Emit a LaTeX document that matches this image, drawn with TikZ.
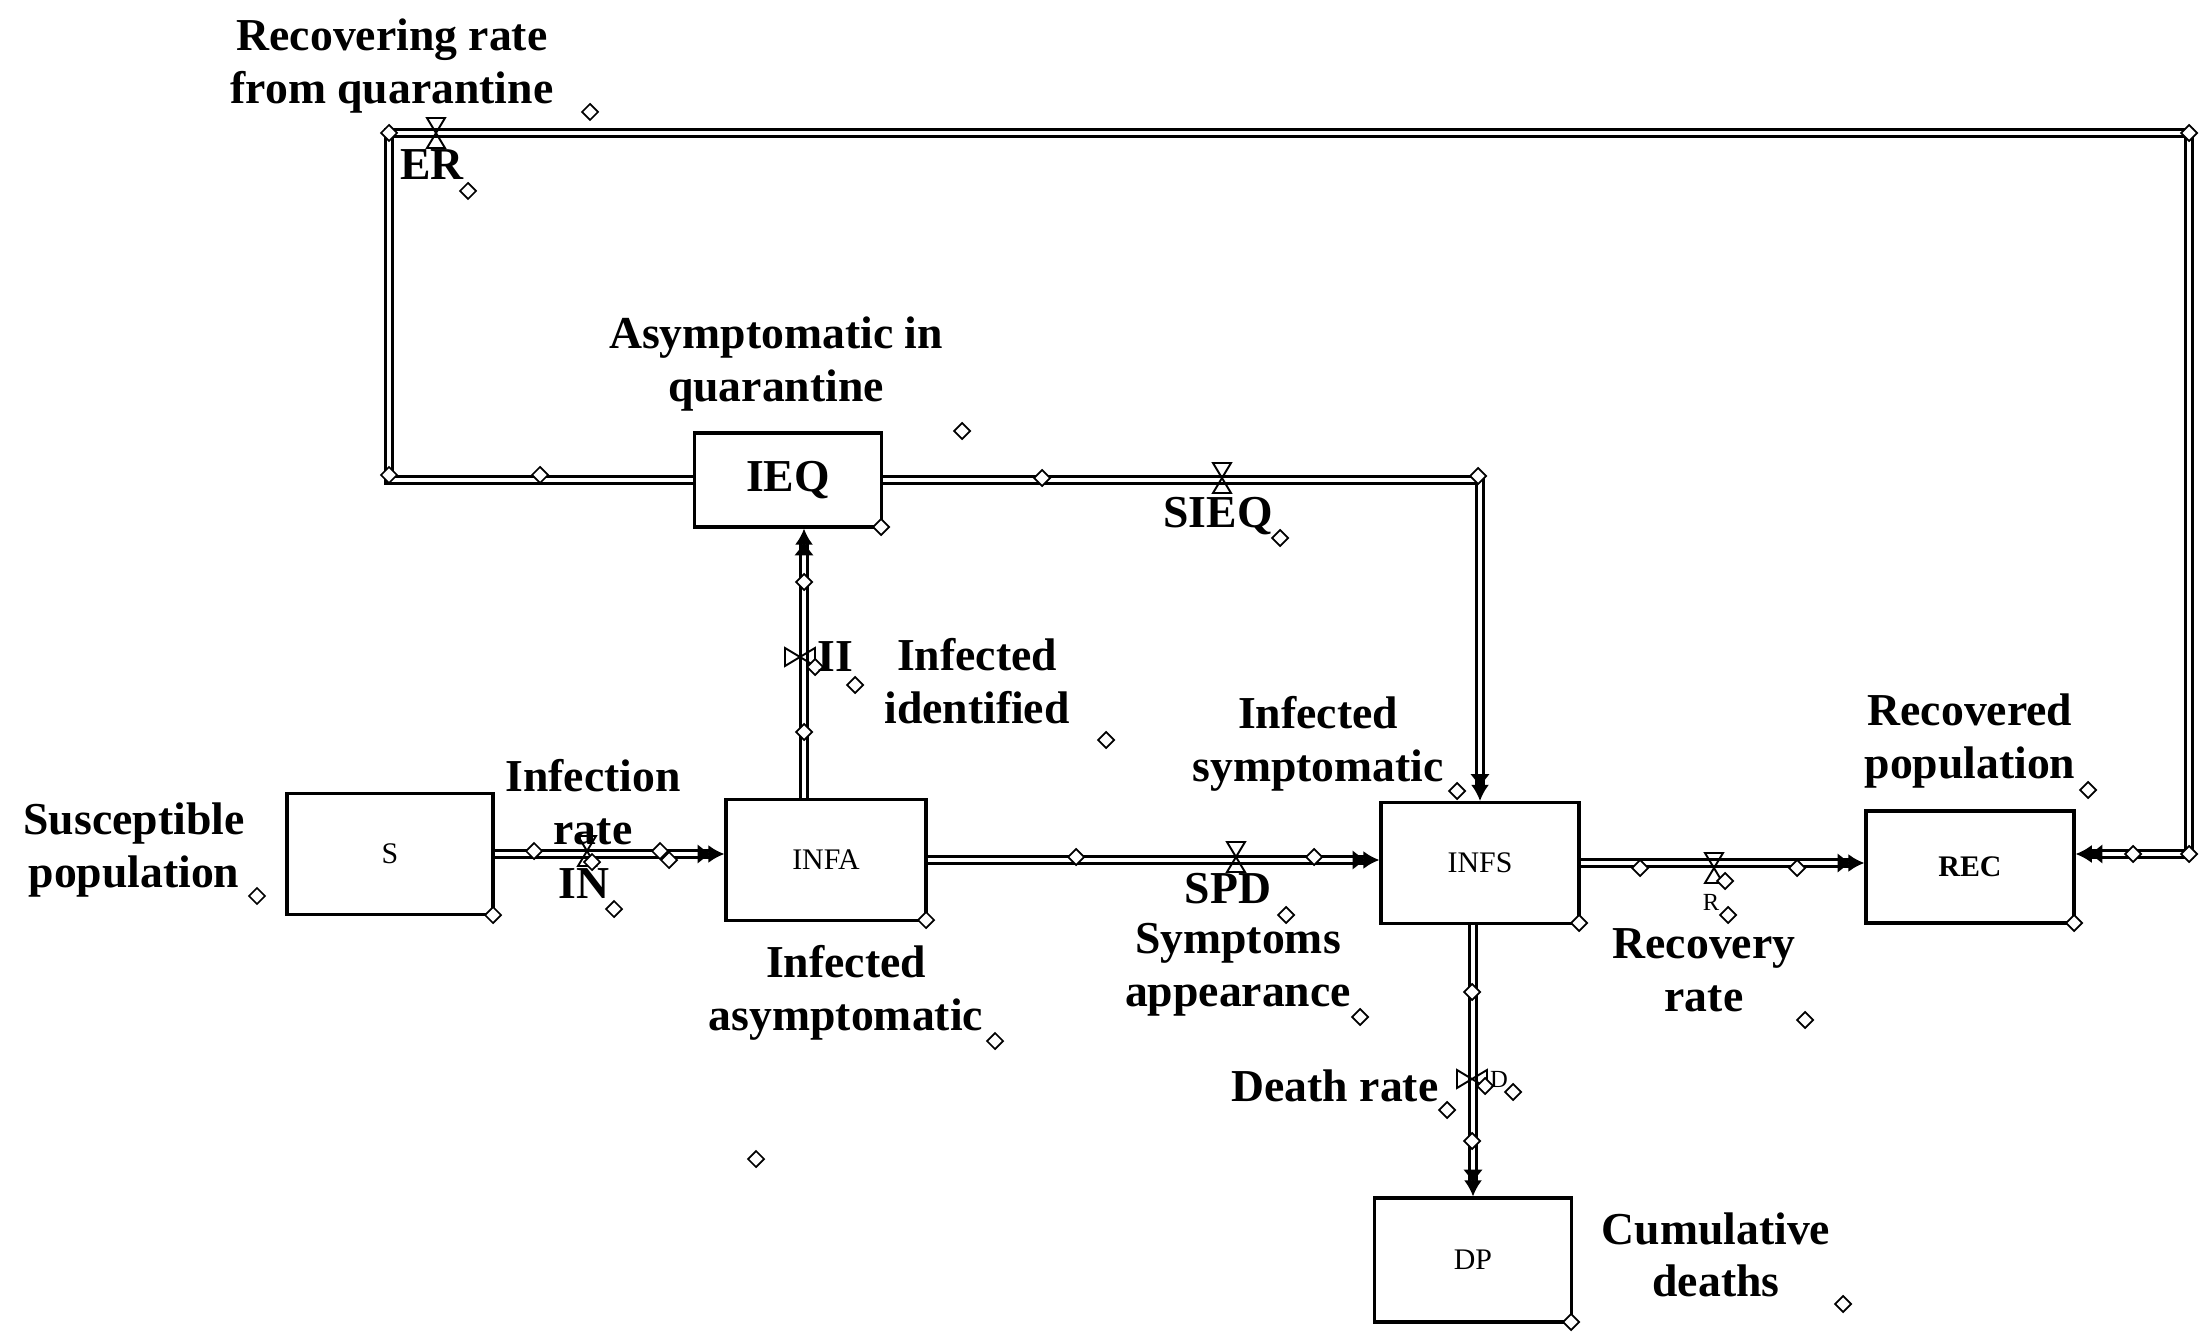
\documentclass[tikz,border=0pt]{standalone}
\usepackage{fontspec}
\setmainfont{Liberation Serif}
\usetikzlibrary{arrows.meta}

\newcommand\lblfont{\fontsize{13}{15}\selectfont\bfseries}
\newcommand\stockfont{\fontsize{8.5}{10}\selectfont}
\newcommand\smallfont{\fontsize{7}{8}\selectfont}

\tikzset{
  handle/.pic={\draw[line width=0.5pt, fill=white] (-8,0) -- (0,-8) -- (8,0) -- (0,8) -- cycle;},
  valveh/.pic={\draw[line width=0.55pt] (-9,-15) -- (9,-15) -- (-9,15) -- (9,15) -- cycle;},
  valvev/.pic={\draw[line width=0.55pt] (-15,-9) -- (-15,9) -- (15,-9) -- (15,9) -- cycle;},
}

\begin{document}
\begin{tikzpicture}[x=0.1mm,y=-0.1mm,
  stock/.style={draw, line width=0.9pt, fill=white, inner sep=0pt, font=\stockfont},
  pipe/.style={draw, line width=0.75pt, double=white, double distance=1.1pt},
  tip/.style={-{Latex[length=4.2pt,width=5.6pt,sep=-1.2pt]Latex[length=4.6pt,width=5.2pt]}},
  lab/.style={font=\lblfont, align=center, inner sep=0pt},
  tag/.style={font=\smallfont, inner sep=0pt},
]
\useasboundingbox (0,0) rectangle (2203,1333);

% stocks
\node[stock, minimum width=20.6mm, minimum height=12.1mm] (S)    at (390,854)  {S};
\node[stock, minimum width=20.0mm, minimum height=12.1mm] (INFA) at (826,860)  {INFA};
\node[stock, minimum width=18.7mm, minimum height=9.4mm, font=\lblfont] (IEQ) at (788,480) {IEQ};
\node[stock, minimum width=19.8mm, minimum height=12.1mm] (INFS) at (1480,863) {INFS};
\node[stock, minimum width=20.8mm, minimum height=11.2mm, font=\fontsize{8.5}{10}\selectfont\bfseries] (REC) at (1970,867) {REC};
\node[stock, minimum width=19.7mm, minimum height=12.4mm] (DP)   at (1473,1260) {DP};

% corners of the quarantine return loop
\coordinate (qb) at (389,133);
\coordinate (qc) at (2189,133);

% flows
\draw[pipe, tip] (S.east) -- (S.east -| INFA.west);
\draw[pipe, tip] (INFA.east) -- (INFA.east -| INFS.west);
\draw[pipe, tip] (INFS.east) -- (INFS.east -| REC.west);
\draw[pipe, tip] (DP.north |- INFS.south) -- (DP.north);
\draw[pipe, tip] ([xshift=-2.2mm]INFA.north) -- ([xshift=-2.2mm]INFA.north |- IEQ.south);
\draw[pipe, tip] (IEQ.east) -| (INFS.north);
\draw[pipe, tip] (IEQ.west) -| (qb) -- (qc) |- ([yshift=1.3mm]REC.east);

% valves
\pic at (436,133)  {valveh};
\pic at (1222,478) {valveh};
\pic at (800,657)  {valvev};
\pic at (587,851)  {valveh};
\pic at (1236,857) {valveh};
\pic at (1714,868) {valveh};
\pic at (1472,1079) {valvev};

% handles
\foreach \p in {(590,112),(468,191),(389,133),(2189,133),
  (389,475),(540,475),(962,431),(881,527),(1042,478),(1280,538),(1478,476),
  (804,582),(804,732),(815,667),(855,685),(1106,740),
  (257,896),(493,915),(534,851),(592,862),(614,909),(660,851),(669,860),(926,920),(995,1041),(756,1159),
  (1076,857),(1314,857),(1286,915),(1360,1017),(1457,791),(1579,923),
  (1640,868),(1797,868),(1725,881),(1728,915),(1805,1020),(2088,790),(2074,923),(2133,854),(2189,854),
  (1472,992),(1472,1141),(1447,1110),(1485,1086),(1513,1092),(1843,1304),(1571,1322)}
  \pic at \p {handle};

% labels
\node[lab] (lER)   at (392,66)   {Recovering rate\\from quarantine};
\node[lab] (tER)   at (432,165)  {ER};
\node[lab] (lIEQ)  at (776,364)  {Asymptomatic in\\quarantine};
\node[lab] (tSIEQ) at (1218,516) {SIEQ};
\node[lab] (tII)   at (835,657)  {II};
\node[lab] (lII)   at (977,681)  {Infected\\identified};
\node[lab] (lINFS) at (1318,744) {Infected\\symptomatic};
\node[lab] (lIN)   at (593,802)  {Infection\\rate};
\node[lab] (tIN)   at (584,884)  {IN};
\node[lab] (lS)    at (134,850)  {Susceptible\\population};
\node[lab] (lINFA) at (846,993)  {Infected\\asymptomatic};
\node[lab] (tSPD)  at (1228,889) {SPD};
\node[lab] (lSPD)  at (1238,970) {Symptoms\\appearance};
\node[lab] (lR)    at (1704,970) {Recovery\\rate};
\node[tag] (tR)    at (1711,902) {R};
\node[lab] (lREC)  at (1970,741) {Recovered\\population};
\node[lab] (lD)    at (1335,1086) {Death rate};
\node[tag] (tD)    at (1499,1079) {D};
\node[lab] (lDP)   at (1716,1255) {Cumulative\\deaths};
\end{tikzpicture}
\end{document}
